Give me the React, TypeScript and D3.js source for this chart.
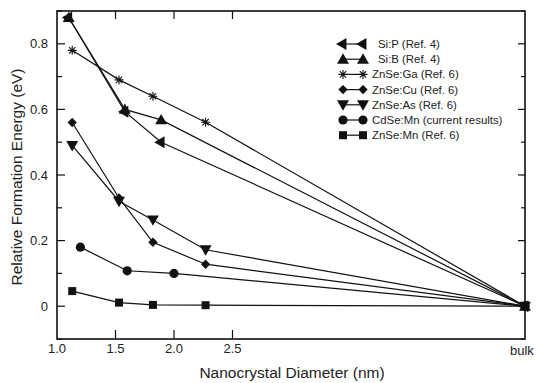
import * as d3 from "d3";
import React, { useEffect, useRef } from "react";

// diameters (nm); "bulk" sits at the right end of the axis
type X = number | "bulk";

const seriesNames = [
  "Si:P (Ref. 4)",
  "Si:B (Ref. 4)",
  "ZnSe:Ga (Ref. 6)",
  "ZnSe:Cu (Ref. 6)",
  "ZnSe:As (Ref. 6)",
  "CdSe:Mn (current results)",
  "ZnSe:Mn (Ref. 6)",
];

const siDiameters: X[] = [1.1, 1.58, 1.89, "bulk"];
const znseDiameters: X[] = [1.13, 1.53, 1.82, 2.27, "bulk"];
const cdseDiameters: X[] = [1.2, 1.6, 2.0, "bulk"];

const siP = [0.88, 0.593, 0.5, 0];
const siB = [0.88, 0.6, 0.568, 0];
const znseGa = [0.78, 0.69, 0.64, 0.561, 0];
const znseCu = [0.56, 0.33, 0.195, 0.128, 0];
const znseAs = [0.49, 0.32, 0.263, 0.172, 0];
const cdseMn = [0.18, 0.108, 0.1, 0];
const znseMn = [0.046, 0.011, 0.004, 0.003, 0];

const xTickLabels = ["1.0", "1.5", "2.0", "2.5", "bulk"];
const xTickValues: X[] = [1.0, 1.5, 2.0, 2.5, "bulk"];
const yTickValues = [0, 0.2, 0.4, 0.6, 0.8];
const yMinorValues = [-0.1, 0.1, 0.3, 0.5, 0.7, 0.9];

const width = 536;
const height = 383;
const plot = { left: 57, right: 525, top: 11, bottom: 339 };
const BULK_POS = 5; // where "bulk" lands on the diameter axis

const starPath = (s: number) => {
  const r = s / 2;
  const d = r * Math.SQRT1_2;
  return `M0,${-r}L0,${r}M${-r},0L${r},0M${-d},${-d}L${d},${d}M${-d},${d}L${d},${-d}`;
};

const markerFor = (kind: string, sel: d3.Selection<any, any, any, any>) => {
  const tri = d3.symbol().type(d3.symbolTriangle).size(62)();
  if (kind === "left")
    sel.append("path").attr("d", tri).attr("transform", "rotate(-90)").attr("fill", "#111");
  else if (kind === "up")
    sel.append("path").attr("d", tri).attr("transform", "translate(0,1)").attr("fill", "#111");
  else if (kind === "down")
    sel.append("path").attr("d", tri).attr("transform", "translate(0,-1) rotate(180)").attr("fill", "#111");
  else if (kind === "star")
    sel.append("path").attr("d", starPath(9)).attr("stroke", "#111").attr("stroke-width", 1.1).attr("fill", "none");
  else if (kind === "diamond")
    sel.append("rect").attr("x", -3.3).attr("y", -3.3).attr("width", 6.6).attr("height", 6.6)
      .attr("transform", "rotate(45)").attr("fill", "#111");
  else if (kind === "circle")
    sel.append("circle").attr("r", 4.6).attr("fill", "#111");
  else if (kind === "square")
    sel.append("rect").attr("x", -4).attr("y", -4).attr("width", 8).attr("height", 8).attr("fill", "#111");
};

const App = () => {
  const ref = useRef<SVGSVGElement>(null);

  useEffect(() => {
    const svg = d3.select(ref.current);
    svg.selectAll("*").remove();

    const xLin = d3.scaleLinear().domain([1, BULK_POS]).range([plot.left, plot.right]);
    const x = (v: X) => xLin(v === "bulk" ? BULK_POS : v);
    const y = d3.scaleLinear().domain([-0.1, 0.9]).range([plot.bottom, plot.top]);

    const series = [
      { name: seriesNames[0], xs: siDiameters, ys: siP, marker: "left", indent: 6 },
      { name: seriesNames[1], xs: siDiameters, ys: siB, marker: "up", indent: 6 },
      { name: seriesNames[2], xs: znseDiameters, ys: znseGa, marker: "star", indent: 0 },
      { name: seriesNames[3], xs: znseDiameters, ys: znseCu, marker: "diamond", indent: 0 },
      { name: seriesNames[4], xs: znseDiameters, ys: znseAs, marker: "down", indent: 0 },
      { name: seriesNames[5], xs: cdseDiameters, ys: cdseMn, marker: "circle", indent: 0 },
      { name: seriesNames[6], xs: znseDiameters, ys: znseMn, marker: "square", indent: 0 },
    ];

    const font = "'Liberation Sans', Arial, sans-serif";
    const g = svg.append("g");

    // lines
    const line = d3.line<[X, number]>().x(d => x(d[0])).y(d => y(d[1]));
    series.forEach(s => {
      const pts = s.xs.map((v, i) => [v, s.ys[i]] as [X, number]);
      g.append("path").attr("d", line(pts)).attr("fill", "none").attr("stroke", "#111").attr("stroke-width", 1.2);
    });
    // markers
    series.forEach(s => {
      s.xs.forEach((v, i) => {
        const m = g.append("g").attr("transform", `translate(${x(v)},${y(s.ys[i])})`);
        markerFor(s.marker, m);
      });
    });

    // frame
    g.append("rect")
      .attr("x", plot.left).attr("y", plot.top)
      .attr("width", plot.right - plot.left).attr("height", plot.bottom - plot.top)
      .attr("fill", "none").attr("stroke", "#111").attr("stroke-width", 1.6);

    // y ticks (both sides, inward)
    const ticks = g.append("g").attr("stroke", "#111").attr("stroke-width", 1.2);
    yTickValues.forEach(v => {
      ticks.append("line").attr("x1", plot.left).attr("x2", plot.left + 8).attr("y1", y(v)).attr("y2", y(v));
      ticks.append("line").attr("x1", plot.right).attr("x2", plot.right - 7).attr("y1", y(v)).attr("y2", y(v));
    });
    yMinorValues.forEach(v => {
      ticks.append("line").attr("x1", plot.left).attr("x2", plot.left + 5).attr("y1", y(v)).attr("y2", y(v));
      ticks.append("line").attr("x1", plot.right).attr("x2", plot.right - 4).attr("y1", y(v)).attr("y2", y(v));
    });
    // x ticks (top and bottom, inward)
    xTickValues.slice(1, 4).forEach(v => {
      ticks.append("line").attr("x1", x(v)).attr("x2", x(v)).attr("y1", plot.bottom).attr("y2", plot.bottom - 9);
      ticks.append("line").attr("x1", x(v)).attr("x2", x(v)).attr("y1", plot.top).attr("y2", plot.top + 8);
    });

    // tick labels
    g.selectAll(".ylab").data(yTickValues).join("text")
      .attr("x", plot.left - 9).attr("y", d => y(d)).attr("dy", "0.35em")
      .attr("text-anchor", "end").attr("font-family", font).attr("font-size", 13).attr("fill", "#222")
      .text(d => (d === 0 ? "0" : d3.format(".1f")(d)));
    g.selectAll(".xlab").data(xTickValues).join("text")
      .attr("x", d => (d === "bulk" ? x(d) - 15 : x(d))).attr("y", d => (d === "bulk" ? 355 : 353))
      .attr("text-anchor", d => (d === "bulk" ? "start" : "middle"))
      .attr("font-family", font).attr("font-size", 13).attr("fill", "#222")
      .text((d, i) => xTickLabels[i]);

    // axis titles
    g.append("text").attr("x", 292).attr("y", 378).attr("text-anchor", "middle")
      .attr("font-family", font).attr("font-size", 15.5).attr("fill", "#222")
      .text("Nanocrystal Diameter (nm)");
    g.append("text").attr("transform", "translate(22,177) rotate(-90)").attr("text-anchor", "middle")
      .attr("font-family", font).attr("font-size", 15.5).attr("fill", "#222")
      .text("Relative Formation Energy (eV)");

    // legend
    const legend = g.append("g").attr("transform", "translate(343,44)");
    series.forEach((s, i) => {
      const row = legend.append("g").attr("transform", `translate(0,${i * 15.2})`);
      row.append("line").attr("x1", 0).attr("x2", 20).attr("stroke", "#111").attr("stroke-width", 1.2);
      markerFor(s.marker, row.append("g"));
      markerFor(s.marker, row.append("g").attr("transform", "translate(20,0)"));
      row.append("text").attr("x", 29 + s.indent).attr("dy", "0.35em")
        .attr("font-family", font).attr("font-size", 11.4).attr("fill", "#222").text(s.name);
    });
  }, []);

  return (
    <svg ref={ref} width={width} height={height}
      style={{ position: "absolute", left: 0, top: 0, background: "#fff" }} />
  );
};

export default App;
